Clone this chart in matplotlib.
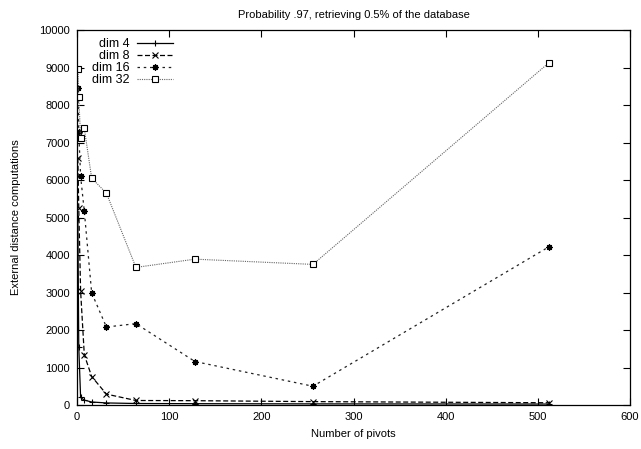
import matplotlib
matplotlib.use("Agg")
import matplotlib.pyplot as plt

# --- data ---
pivots = [1, 2, 4, 8, 16, 32, 64, 128, 256, 512]
dim4 = [5000, 1550, 200, 130, 80, 55, 40, 35, 30, 25]
dim8 = [6580, 5250, 3040, 1340, 760, 290, 120, 115, 90, 60]
dim16 = [8460, 7270, 6100, 5170, 2990, 2080, 2170, 1160, 500, 4220]
dim32 = [8950, 8220, 7120, 7380, 6050, 5650, 3670, 3890, 3750, 9130]
labels = ["dim 4", "dim 8", "dim 16", "dim 32"]
title = "Probability .97, retrieving 0.5% of the database"

plt.rcParams["font.family"] = ["Liberation Sans", "DejaVu Sans"]
plt.rcParams["font.size"] = 8

fig = plt.figure(figsize=(6.41, 4.49), dpi=100)
ax = fig.add_axes([0.120, 0.098, 0.863, 0.835])

ax.plot(pivots, dim4, color="black", lw=0.9, ls="-", marker="+", ms=5, mew=0.8,
        label=labels[0])
ax.plot(pivots, dim8, color="black", lw=0.9, ls=(0, (4, 2)), marker="x", ms=4,
        mew=0.8, label=labels[1])
ax.plot(pivots, dim16, color="#222222", lw=0.9, ls=(0, (2, 3)), marker=(8, 2, 0),
        ms=4.5, mew=0.9, mec="black", label=labels[2])
ax.plot(pivots, dim32, color="#666666", lw=0.8, ls=(0, (1, 1)), marker="s", ms=3.8,
        mew=0.8, mec="black", mfc="white", label=labels[3])

ax.set_xlim(0, 600)
ax.set_ylim(0, 10000)
ax.set_xticks(range(0, 601, 100))
ax.set_yticks(range(0, 10001, 1000))
ax.tick_params(direction="in", top=True, right=True, length=5, width=0.8,
               labelsize=8, pad=5)
for s in ax.spines.values():
    s.set_linewidth(0.9)

ax.set_xlabel("Number of pivots", fontsize=8, labelpad=5)
ax.set_ylabel("External distance computations", fontsize=8, labelpad=13)
ax.set_title(title, fontsize=8, pad=9)

ax.legend(loc="upper left", bbox_to_anchor=(0.012, 1.0), frameon=False,
          markerfirst=False, handlelength=2.9, handletextpad=0.6,
          labelspacing=0.0, borderaxespad=0.25, fontsize=9)

fig.savefig("out.png", dpi=100)
